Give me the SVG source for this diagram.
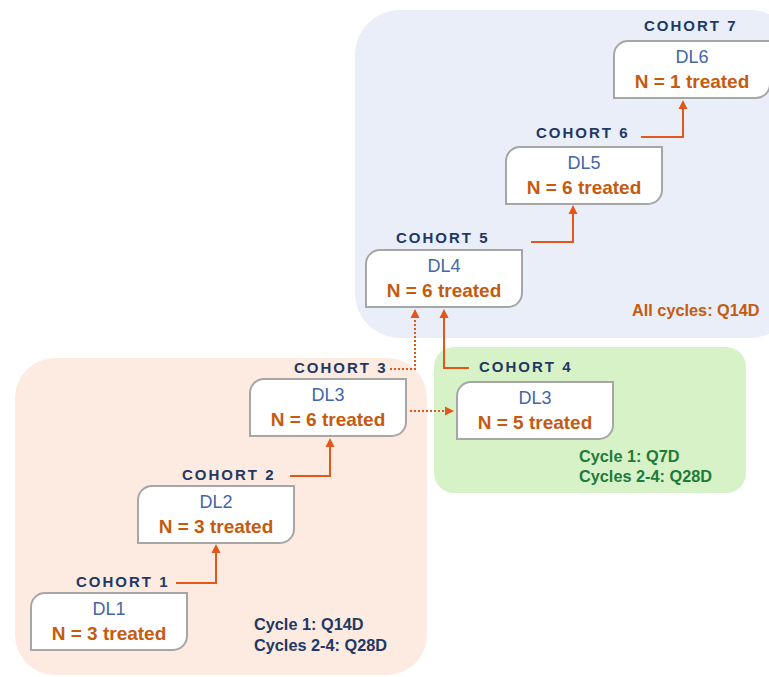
<svg xmlns="http://www.w3.org/2000/svg" width="769" height="677" viewBox="0 0 769 677">
  <style>
    .lbl { font-family: "Liberation Sans", Arial, sans-serif; font-weight: bold; font-size: 15px; letter-spacing: 2px; fill: #1f3864; }
    .dl { font-family: "Liberation Sans", Arial, sans-serif; font-size: 18px; fill: #4466a8; text-anchor: middle; }
    .n { font-family: "Liberation Sans", Arial, sans-serif; font-weight: bold; font-size: 19px; fill: #c55a11; text-anchor: middle; }
    .sched { font-family: "Liberation Sans", Arial, sans-serif; font-weight: bold; font-size: 16.3px; }
    .box { fill: #ffffff; stroke: #a6a6a6; stroke-width: 2; }
    .link { fill: none; stroke: #e2581b; stroke-width: 2; }
    .dot { stroke-dasharray: 2 2; }
  </style>
  <defs>
    <!-- box with rounded top-left and bottom-right corners -->
    <path id="nodebox" d="M0,14 A14,14 0 0 1 14,0 L156,0 L156,43 A14,14 0 0 1 142,57 L0,57 Z"/>
    <marker id="arrow" markerWidth="10" markerHeight="10" refX="5" refY="5" orient="auto" markerUnits="userSpaceOnUse">
      <path d="M0,0.5 L9,5 L0,9.5 Z" fill="#e2581b"/>
    </marker>
  </defs>

  <!-- background regions -->
  <rect x="15" y="358" width="412" height="317" rx="40" fill="#fdeae1"/>
  <rect x="355" y="10" width="440" height="328" rx="45" fill="#e9eef8"/>
  <rect x="434" y="347" width="312" height="146" rx="20" fill="#d8f2c8"/>

  <!-- schedule notes -->
  <text class="sched" x="254" y="630" fill="#1f3864">Cycle 1: Q14D</text>
  <text class="sched" x="254" y="651" fill="#1f3864">Cycles 2-4: Q28D</text>
  <text class="sched" x="579" y="462" fill="#1e7b3a">Cycle 1: Q7D</text>
  <text class="sched" x="579" y="482" fill="#1e7b3a">Cycles 2-4: Q28D</text>
  <text class="sched" x="632" y="316" fill="#c55a11">All cycles: Q14D</text>

  <!-- connectors -->
  <g id="connectors">
    <path class="link" d="M176,583 H216 V548" marker-end="url(#arrow)"/>
    <path class="link" d="M290,476 H330 V442" marker-end="url(#arrow)"/>
    <path class="link dot" d="M410,411 H450" marker-end="url(#arrow)"/>
    <path class="link dot" d="M390,369 H415 V313" marker-end="url(#arrow)"/>
    <path class="link" d="M469,368 H444 V313" marker-end="url(#arrow)"/>
    <path class="link" d="M531,242 H573 V209" marker-end="url(#arrow)"/>
    <path class="link" d="M641,137 H683 V104" marker-end="url(#arrow)"/>
  </g>

  <g id="cohort1">
    <text class="lbl" x="76" y="587">COHORT 1</text>
    <use href="#nodebox" class="box" x="31" y="593"/>
    <text class="dl" x="109" y="615">DL1</text>
    <text class="n" x="109" y="640">N = 3 treated</text>
  </g>
  <g id="cohort2">
    <text class="lbl" x="182" y="480">COHORT 2</text>
    <use href="#nodebox" class="box" x="138" y="486"/>
    <text class="dl" x="216" y="508">DL2</text>
    <text class="n" x="216" y="533">N = 3 treated</text>
  </g>
  <g id="cohort3">
    <text class="lbl" x="294" y="373">COHORT 3</text>
    <use href="#nodebox" class="box" x="250" y="379"/>
    <text class="dl" x="328" y="401">DL3</text>
    <text class="n" x="328" y="426">N = 6 treated</text>
  </g>
  <g id="cohort4">
    <text class="lbl" x="479" y="372">COHORT 4</text>
    <use href="#nodebox" class="box" x="457" y="382"/>
    <text class="dl" x="535" y="404">DL3</text>
    <text class="n" x="535" y="429">N = 5 treated</text>
  </g>
  <g id="cohort5">
    <text class="lbl" x="396" y="243">COHORT 5</text>
    <use href="#nodebox" class="box" x="366" y="250"/>
    <text class="dl" x="444" y="272">DL4</text>
    <text class="n" x="444" y="297">N = 6 treated</text>
  </g>
  <g id="cohort6">
    <text class="lbl" x="536" y="138">COHORT 6</text>
    <use href="#nodebox" class="box" x="506" y="147"/>
    <text class="dl" x="584" y="169">DL5</text>
    <text class="n" x="584" y="194">N = 6 treated</text>
  </g>
  <g id="cohort7">
    <text class="lbl" x="644" y="31">COHORT 7</text>
    <use href="#nodebox" class="box" x="614" y="41"/>
    <text class="dl" x="692" y="63">DL6</text>
    <text class="n" x="692" y="88">N = 1 treated</text>
  </g>
</svg>
